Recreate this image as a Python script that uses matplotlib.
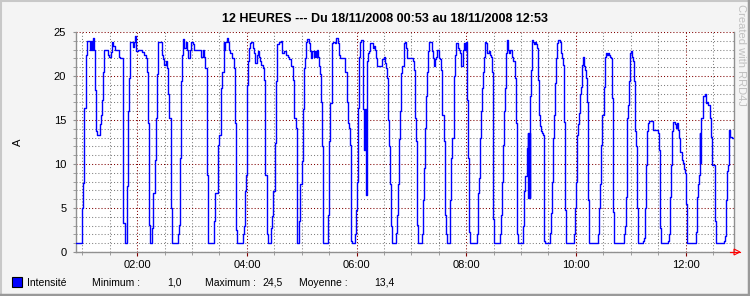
import matplotlib
matplotlib.use("Agg")
import matplotlib.pyplot as plt
from matplotlib.lines import Line2D
from matplotlib.patches import Polygon, Rectangle

# minutes after 00:53 (step start) and current in A
minutes = [0, 6.6, 8.0, 9.1, 10.9, 12.0, 15.3, 16.8, 17.5, 18.2, 19.3, 20.4, 21.5, 22.6, 26.3, 27.4, 28.5, 29.9,
           31.0, 34.7, 36.5, 38.0, 39.1, 40.1, 42.7, 44.9, 46.7, 48.5, 51.1, 51.8, 53.3, 55.8, 57.3, 58.4, 59.5,
           62.0, 63.5, 65.0, 66.1, 67.9, 72.6, 74.5, 76.3, 78.1, 79.2, 80.3, 80.7, 83.6, 84.7, 86.1, 87.2, 88.3,
           89.4, 94.2, 95.6, 96.7, 98.5, 99.6, 100.7, 102.2, 103.6, 104.7, 105.5, 111.7, 112.4, 113.9, 115.0,
           116.1, 116.8, 118.2,
           120.4, 121.5, 123.0, 124.8, 125.9, 128.4, 129.5, 136.8, 138.6, 140.5, 141.6, 143.0, 144.1, 151.4,
           152.5, 155.1, 156.5, 158.7, 159.8, 161.6, 162.4, 163.5, 164.9, 166.4, 167.1, 168.9, 170.8, 172.6,
           174.4, 175.5, 176.2, 182.4, 183.5, 184.6, 186.1, 186.8, 188.6, 189.4, 190.5, 191.6, 194.1, 195.2,
           196.3, 197.8, 198.9, 200.0, 201.4, 202.9, 204.3, 205.8, 207.3, 208.7, 209.8, 213.5, 214.6, 216.0,
           217.5, 218.6, 219.7, 222.6, 224.4, 225.9, 228.1, 229.9, 231.7, 233.5, 235.7, 237.2, 239.0, 240.8,
           241.5, 242.0, 244.5, 245.6, 247.1, 248.2, 249.7, 250.8, 251.8, 252.9, 255.5, 256.2, 257.3, 258.4,
           259.9, 261.0, 262.1, 263.5, 264.6, 265.7, 266.8, 267.9, 269.0, 270.1, 270.8, 275.6, 276.7, 278.1,
           279.6, 281.0, 282.9, 284.7, 286.5, 287.3, 288.3, 289.4, 294.5, 296.0, 297.1, 298.2, 299.3, 300.4,
           301.5, 304.8, 305.9, 307.0, 308.1, 309.1, 310.2, 311.3, 312.4, 313.5, 314.3, 315.0, 316.1, 316.8,
           317.2, 318.3, 319.4, 320.8, 321.9, 323.4, 324.8, 326.3, 327.4, 328.5, 329.2, 335.1, 336.5, 337.6,
           338.7, 340.2, 341.3, 342.7, 343.8, 344.9, 345.6, 350.4, 351.1, 352.2, 353.7, 354.8, 355.9, 357.0,
           358.4, 359.5, 360.6,
           361.7, 362.5, 368.7, 369.4, 370.5, 371.6, 372.7, 373.8, 378.9, 380.0, 381.1, 382.2, 383.3, 384.4,
           385.5, 386.2, 389.5, 390.6, 391.7, 393.2, 394.2, 395.3, 397.5, 398.6, 399.7, 400.8, 402.3, 403.4,
           404.5, 405.6, 408.8, 409.6, 410.7, 411.8, 413.2, 414.3, 415.4, 418.0, 419.1, 420.2, 421.6, 423.4,
           424.2, 425.3, 426.4, 427.5, 428.2, 429.3, 430.4, 431.5, 438.8, 439.9, 441.0, 442.1, 443.2, 444.2,
           445.3, 446.4, 447.5, 449.0, 450.1, 451.5, 452.6, 453.7, 454.8, 455.9, 457.0, 464.3, 465.4, 466.5,
           467.6, 468.7, 469.8, 470.9, 472.0, 473.1, 474.2, 475.3, 476.7, 478.2, 480.0, 481.1, 482.6, 483.7,
           489.2, 490.7, 491.8, 493.2, 494.3, 495.0, 495.7, 496.4, 497.0, 498.0, 498.7, 500.1, 501.2, 502.3,
           503.4, 504.5, 505.6, 506.7, 507.8, 508.9, 510.0, 511.1, 512.2, 513.3, 518.4, 519.5, 520.6, 521.7,
           523.1, 524.2, 525.3, 526.4, 527.5, 529.3, 530.4, 531.5, 533.0, 534.1, 535.2, 536.3, 545.0, 546.1,
           547.2, 548.7, 549.8, 550.9, 552.0, 553.1, 554.2, 555.3, 556.4, 557.5, 558.5, 559.6, 560.7, 561.8,
           571.3, 572.4, 573.5, 574.6, 575.7, 577.9, 579.0, 580.1, 581.2, 582.3, 583.4, 584.5, 585.6, 586.3,
           587.4, 588.5, 599.4, 600.5, 601.6, 602.7,
           603.1, 604.2, 605.3, 606.4, 607.5, 608.6, 609.7, 610.8, 611.9, 613.0, 614.1, 615.2, 620.6, 621.7,
           622.8, 623.9, 625.0, 626.1, 627.2, 631.6, 636.3, 637.4, 638.5, 639.3, 640.4, 648.0, 649.1, 649.8,
           651.3, 652.4, 653.5, 655.3, 656.8, 657.9, 659.0, 660.1, 661.2, 662.6, 663.7, 664.8, 665.9, 667.4,
           668.5, 678.0, 679.0, 680.5, 681.6, 682.3, 683.1, 684.2, 686.3, 687.8, 688.9, 690.0, 691.8, 693.6,
           695.1, 696.2, 699.1, 700.2, 709.3, 710.4, 711.5, 712.6, 713.7, 714.4, 715.5, 717.3, 720.0]
amps = [1.0, 5.0, 7.8, 16.4, 22.4, 24.0, 23.0, 24.0, 23.0, 24.3, 23.0, 18.4, 13.7, 13.3, 14.5, 15.6, 17.3, 20.5,
        22.9, 22.4, 22.2, 22.7, 23.9, 23.4, 23.0, 22.9, 22.2, 22.0, 19.8, 3.3, 1.0, 7.5, 16.0, 19.8, 23.9,
        23.3, 23.9, 24.5, 22.8, 22.9, 22.7, 22.4, 22.0, 20.5, 14.7, 3.1, 1.0, 2.7, 6.7, 10.5, 15.2, 20.2,
        23.9, 22.4, 21.9, 21.3, 21.7, 20.9, 17.9, 15.2, 5.0, 2.0, 1.0, 2.0, 3.1, 10.7, 19.4,
        22.4, 24.2, 23.2,
        23.9, 23.0, 22.0, 23.0, 23.9, 23.6, 23.0, 22.2, 23.0, 22.2, 20.9, 8.8, 1.0, 3.5,
        6.7, 12.2, 13.3, 18.6, 20.5, 23.9, 23.0, 23.9, 24.3, 23.9, 23.0, 22.6, 22.0, 20.9,
        14.7, 2.5, 1.0, 2.0, 2.9, 6.9, 8.8, 19.0, 21.7, 23.2, 23.8, 23.9, 23.2, 22.6,
        21.5, 22.4, 22.8, 22.2, 21.7, 21.3, 20.9, 19.6, 8.8, 2.0, 1.0, 2.7, 4.1, 6.9,
        12.4, 19.4, 23.6, 23.9, 24.0, 22.6, 22.8, 22.4, 22.2, 21.9, 21.1, 19.6, 15.2, 14.1,
        2.3, 1.0, 3.5, 7.7, 10.3, 16.2, 20.9, 22.0, 23.9, 24.2, 23.8, 22.8, 22.0, 22.8,
        22.2, 22.8, 22.2, 23.0, 22.2, 21.1, 20.2, 17.1, 12.0, 1.6, 1.0, 4.2, 12.6, 16.9,
        23.8, 23.9, 23.8, 24.3, 23.8, 22.6, 22.4, 22.0, 20.5, 17.1, 14.7, 14.1, 12.2, 1.2,
        1.0, 2.0, 4.8, 8.0, 12.4, 16.4, 22.2, 23.9, 24.1, 23.6, 16.2, 11.6, 16.2, 11.6,
        6.5, 21.7, 22.6, 22.8, 23.8, 23.8, 23.2, 23.4, 23.0, 22.0, 21.1, 21.9, 22.2, 21.5,
        20.9, 19.8, 15.0, 12.0, 7.7, 2.9, 1.0, 2.2, 4.2, 7.7, 12.8, 16.0, 20.3, 21.1,
        23.8, 23.9, 23.2,
        22.5, 22.0, 21.7, 20.7, 15.2, 12.6, 3.1, 1.0, 2.0, 5.9, 9.5, 14.1, 17.7, 20.5,
        22.8, 23.9, 22.8, 22.0, 21.1, 21.9, 22.2, 23.0, 22.0, 21.9, 20.7, 15.6, 12.6, 4.2,
        2.0, 1.0, 2.0, 5.9, 10.7, 13.0, 20.0, 22.4, 23.8, 23.2, 23.0, 22.6, 21.1, 23.0,
        23.8, 23.0, 23.9, 21.1, 17.3, 10.7, 2.3, 1.0, 2.0, 6.7, 8.4, 12.9, 16.0, 18.6,
        20.5, 22.2, 23.9, 23.8, 22.6, 22.8, 22.4, 22.2, 20.5, 3.7, 1.0, 2.0, 4.2, 8.0,
        12.2, 16.0, 18.6, 22.6, 24.1, 23.0, 22.6, 23.0, 22.2, 21.7, 19.8, 14.7, 2.0, 1.0,
        2.9, 6.9, 8.6, 11.8, 13.5, 6.1, 13.5, 6.1, 17.7, 20.7, 24.1, 23.9, 23.6, 23.9,
        23.6, 23.2, 19.6, 15.6, 14.3, 13.7, 13.5, 13.3, 1.2, 1.0, 2.2, 4.4, 8.0, 13.0,
        15.6, 19.2, 22.0, 23.8, 24.1, 23.9, 22.6, 22.0, 21.3, 14.8, 4.8, 1.0, 2.0, 5.0,
        8.0, 13.3, 14.5, 15.8, 17.9, 18.8, 21.3, 22.2, 21.1, 20.7, 19.8, 17.1, 5.9, 1.0,
        2.0, 5.0, 7.7, 12.2, 15.6, 18.8, 22.2, 22.6, 22.4, 22.6, 22.4, 22.2, 22.0, 17.5,
        4.6, 1.0, 2.0, 2.9, 6.3, 10.7,
        15.2, 16.7, 19.4, 22.6, 22.8, 22.2, 21.7, 19.4, 13.7, 12.0, 5.0, 1.0, 1.2, 1.6,
        5.0, 9.9, 13.7, 14.7, 14.9, 13.9, 13.5, 11.6, 9.5, 2.7, 1.0, 1.2, 2.0, 6.3,
        9.9, 13.7, 14.8, 14.5, 14.1, 14.7, 13.9, 13.0, 11.4, 10.5, 10.1, 9.4, 9.0, 5.4,
        1.0, 2.3, 6.3, 7.7, 8.8, 13.5, 10.1, 15.2, 17.7, 17.9, 16.9, 17.1, 16.7, 15.2,
        13.1, 9.9, 3.5, 1.0, 1.2, 1.8, 5.9, 9.2, 9.9, 13.9, 13.1, 13.0, 13.0]

x_major = [67, 187, 307, 427, 547, 667]
x_labels = ["02:00", "04:00", "06:00", "08:00", "10:00", "12:00"]
x_minor = list(range(7, 720, 30))
y_major = [0, 5, 10, 15, 20, 25]

legend_name = "Intensité"
stat_names = ["Minimum :", "Maximum :", "Moyenne :"]
stat_values = ["1,0", "24,5", "13,4"]

W, H = 750, 296
FONT = "Liberation Sans"
fig = plt.figure(figsize=(7.5, 2.96), dpi=100, facecolor="#f4f4f4")


def fx(px):
    return px / W


def fy(py):
    return 1 - py / H


ax = fig.add_axes([fx(76), fy(252), fx(734) - fx(76), fy(32) - fy(252)])
ax.set_facecolor("white")
ax.plot(minutes, amps, drawstyle="steps-post", color="#0000ff", lw=1.0, zorder=3)
ax.set_xlim(0, 720)
ax.set_ylim(0, 25)

ax.set_xticks(x_major)
ax.set_xticklabels(x_labels)
ax.set_xticks(x_minor, minor=True)
ax.set_yticks(y_major)
ax.set_yticks(range(0, 26), minor=True)
ax.grid(which="minor", color="#808080", linestyle=(0, (1, 2)), lw=0.75)
ax.grid(which="major", color="#800000", linestyle=(0, (1, 2)), lw=0.75)
ax.set_axisbelow(True)

ax.spines["top"].set_visible(False)
for s in ["left", "right", "bottom"]:
    ax.spines[s].set_color("#909090")
    ax.spines[s].set_linewidth(1.0)
ax.tick_params(which="major", axis="x", length=3, color="#800000", pad=3)
ax.tick_params(which="minor", axis="x", length=2, color="#909090")
ax.tick_params(which="major", axis="y", length=2, color="#909090", pad=5)
ax.tick_params(which="minor", axis="y", length=2, color="#909090")
for lab in ax.get_xticklabels() + ax.get_yticklabels():
    lab.set_fontfamily(FONT)
    lab.set_fontsize(8)

# arrow at the end of the time axis
fig.add_artist(Polygon([[fx(734), fy(249)], [fx(740), fy(252)], [fx(734), fy(255)]], closed=True,
                       fill=False, edgecolor="red", lw=0.8))
fig.add_artist(Line2D([fx(730), fx(740)], [fy(252), fy(252)], color="red", lw=0.8))

fig.text(fx(385), fy(19), "12 HEURES --- Du 18/11/2008 00:53 au 18/11/2008 12:53", ha="center", va="center",
         fontsize=9, fontweight="bold", family=FONT)
fig.text(fx(18), fy(142), "A", rotation=90, ha="center", va="center", fontsize=8, family=FONT)
fig.text(fx(741), fy(4), "Created with RRD4J", rotation=270, ha="center", va="top", fontsize=8,
         color="#c0c0c0", family=FONT)

# legend line
fig.add_artist(Rectangle((fx(12), fy(287)), fx(10), fy(277) - fy(287), facecolor="#0000ff",
                         edgecolor="black", lw=0.8))
fig.text(fx(27), fy(282.5), legend_name, ha="left", va="center", fontsize=7.5, family=FONT)
for name, value, nx, vx in zip(stat_names, stat_values, [92, 205, 299], [167, 262, 374]):
    fig.text(fx(nx), fy(282.5), name, ha="left", va="center", fontsize=7.5, family=FONT)
    fig.text(fx(vx), fy(282.5), value, ha="left", va="center", fontsize=7.5, family=FONT)

# frame around the image
fig.add_artist(Line2D([0, 1], [fy(0.5), fy(0.5)], color="#c8c8c8", lw=1.5))
fig.add_artist(Line2D([fx(0.5), fx(0.5)], [0, 1], color="#c8c8c8", lw=1.5))
fig.add_artist(Line2D([0, 1], [fy(294.5), fy(294.5)], color="#999999", lw=2.5))
fig.add_artist(Line2D([fx(748.5), fx(748.5)], [0, 1], color="#999999", lw=2.5))

fig.savefig("out.png", dpi=100, facecolor=fig.get_facecolor())
